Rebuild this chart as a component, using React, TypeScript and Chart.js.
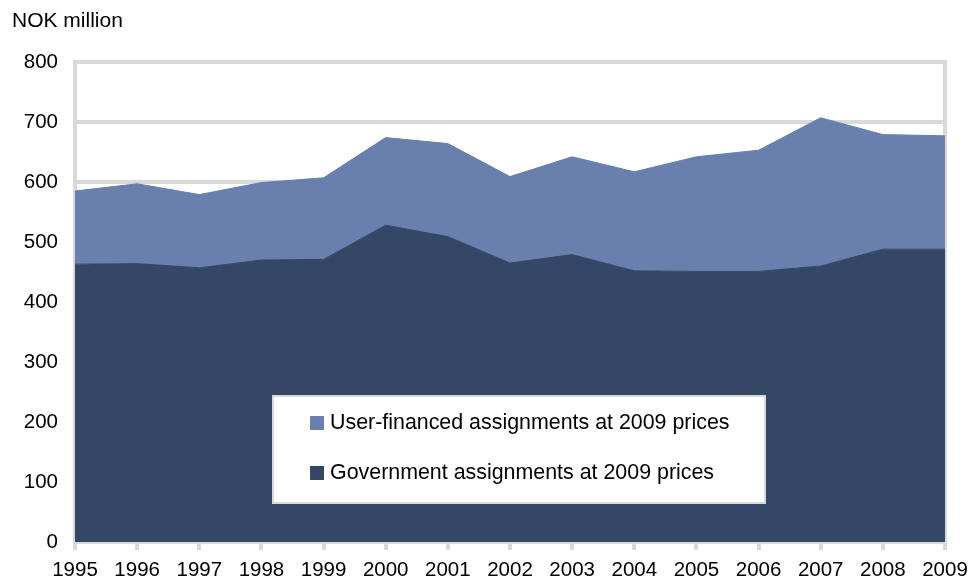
import React, { useEffect, useRef } from "react";
import { Chart, registerables } from "chart.js";

Chart.register(...registerables);

const years = ["1995", "1996", "1997", "1998", "1999", "2000", "2001", "2002", "2003", "2004", "2005", "2006", "2007", "2008", "2009"];
const governmentValues = [463, 464, 457, 470, 471, 528, 509, 465, 479, 452, 451, 451, 460, 488, 488];
const userFinancedValues = [122, 133, 122, 129, 136, 146, 155, 144, 163, 165, 191, 202, 247, 191, 189];
const yMin = 0;
const yMax = 800;
const yStep = 100;
const unitLabel = "NOK million";
const userLabel = "User-financed assignments at 2009 prices";
const govLabel = "Government assignments at 2009 prices";

const USER_COLOR = "#6980AE";
const GOV_COLOR = "#344766";
const GRID_COLOR = "#D9D9D9";
const FONT = "'Liberation Sans', Arial, sans-serif";

const overlayPlugin = {
  id: "overlay",
  beforeDatasetsDraw(chart: any) {
    const { ctx, chartArea } = chart;
    ctx.save();
    ctx.strokeStyle = GRID_COLOR;
    ctx.lineWidth = 4;
    ctx.beginPath();
    ctx.moveTo(chartArea.right, chartArea.top - 2);
    ctx.lineTo(chartArea.right, chartArea.bottom);
    ctx.stroke();
    ctx.restore();
  },
  afterDraw(chart: any) {
    const { ctx, chartArea } = chart;
    ctx.save();
    ctx.fillStyle = "#000";
    ctx.font = `21px ${FONT}`;
    ctx.textBaseline = "middle";
    ctx.textAlign = "left";
    ctx.fillText(unitLabel, 12, 21);

    const left = chartArea.left + 198;
    const top = chartArea.top + 334;
    const w = 492;
    const h = 107;
    ctx.fillStyle = "#fff";
    ctx.fillRect(left, top, w, h);
    ctx.strokeStyle = GRID_COLOR;
    ctx.lineWidth = 2;
    ctx.strokeRect(left, top, w, h);

    const items = [chart.data.datasets[1], chart.data.datasets[0]];
    const rows = [27, 77];
    items.forEach((ds: any, i: number) => {
      const cy = top + rows[i];
      ctx.fillStyle = ds.backgroundColor;
      ctx.fillRect(left + 37, cy - 7, 14, 14);
      ctx.fillStyle = "#000";
      ctx.font = `21.4px ${FONT}`;
      ctx.fillText(ds.label, left + 57, cy);
    });
    ctx.restore();
  },
};

export default function App() {
  const ref = useRef<HTMLCanvasElement>(null);

  useEffect(() => {
    document.body.style.margin = "0";
    if (!ref.current) return;
    const chart = new Chart(ref.current, {
      type: "line",
      data: {
        labels: years,
        datasets: [
          {
            label: govLabel,
            data: governmentValues,
            backgroundColor: GOV_COLOR,
            borderColor: GOV_COLOR,
            borderWidth: 1,
            pointRadius: 0,
            fill: "origin",
            tension: 0,
          },
          {
            label: userLabel,
            data: userFinancedValues,
            backgroundColor: USER_COLOR,
            borderColor: USER_COLOR,
            borderWidth: 1,
            pointRadius: 0,
            fill: "-1",
            tension: 0,
          },
        ],
      },
      options: {
        responsive: false,
        animation: false,
        layout: { padding: { top: 62, right: 25, left: 0, bottom: 0 } },
        plugins: {
          legend: { display: false },
          tooltip: { enabled: false },
          title: { display: false },
        },
        scales: {
          x: {
            type: "category",
            offset: false,
            grid: {
              drawOnChartArea: false,
              drawTicks: true,
              tickLength: 8,
              color: GRID_COLOR,
              lineWidth: 4,
            },
            border: { display: true, color: GRID_COLOR, width: 4 },
            ticks: {
              color: "#000",
              font: { family: FONT, size: 20.5 },
              padding: 8,
              maxRotation: 0,
              autoSkip: false,
            },
            afterFit(scale: any) {
              scale.height = 36;
              scale.paddingLeft = 0;
              scale.paddingRight = 0;
            },
          },
          y: {
            stacked: true,
            min: yMin,
            max: yMax,
            grid: {
              color: GRID_COLOR,
              lineWidth: 4,
              drawTicks: false,
            },
            border: { display: true, color: GRID_COLOR, width: 4 },
            ticks: {
              stepSize: yStep,
              color: "#000",
              font: { family: FONT, size: 20.5 },
              padding: 17,
            },
            afterFit(scale: any) {
              scale.width = 75;
              scale.paddingTop = 0;
              scale.paddingBottom = 0;
            },
          },
        },
      },
      plugins: [overlayPlugin],
    });
    return () => chart.destroy();
  }, []);

  return <canvas ref={ref} width={970} height={578} style={{ display: "block" }} />;
}
